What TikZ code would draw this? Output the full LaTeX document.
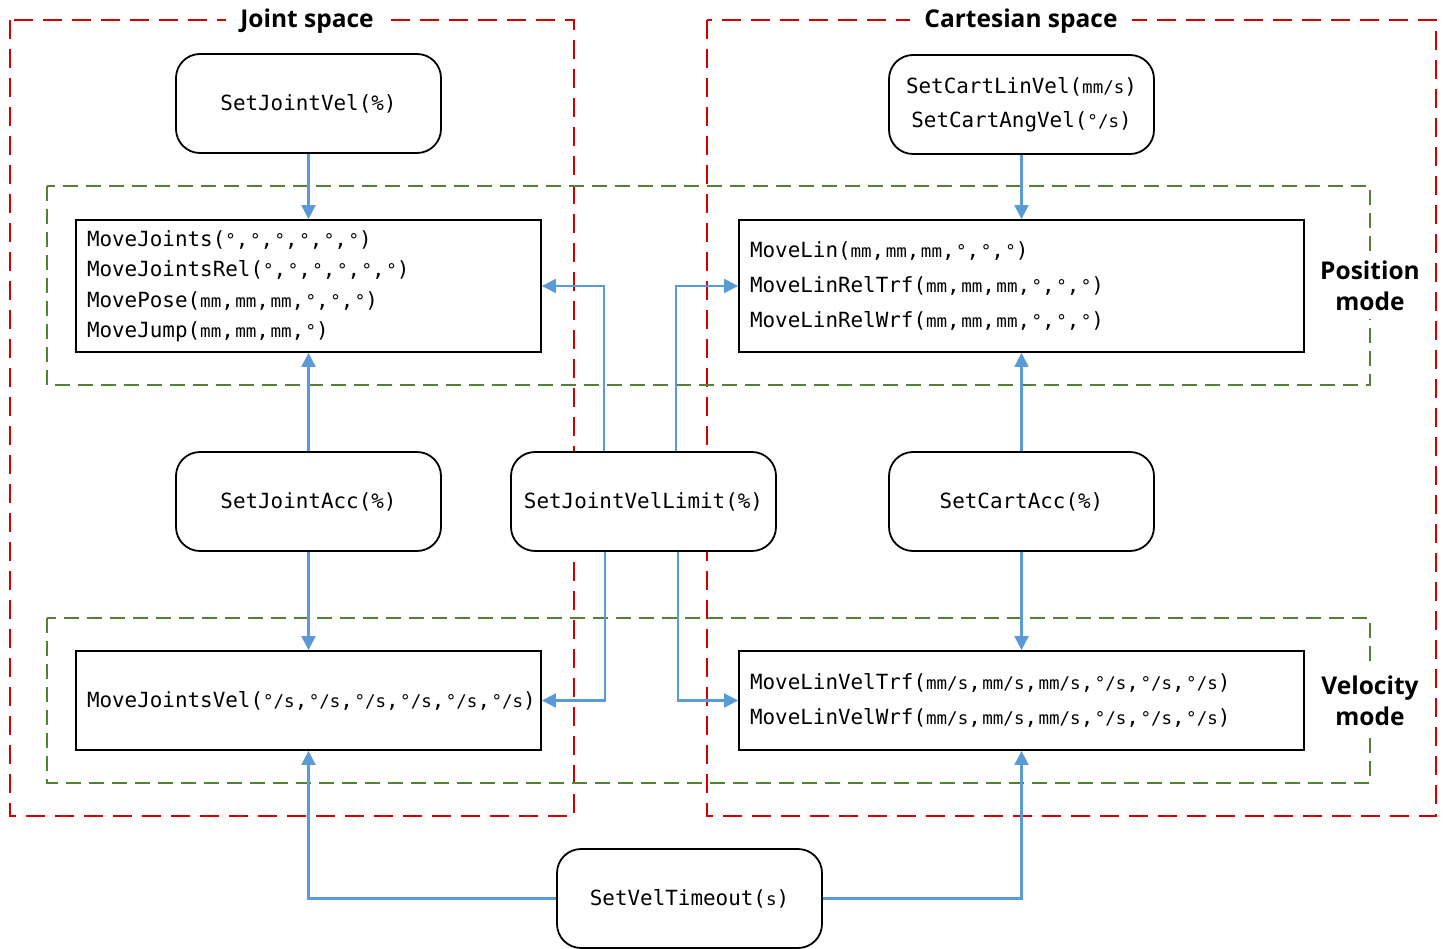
\documentclass[tikz,border=0pt]{standalone}
\usepackage{fontspec}
\setmonofont{DejaVu Sans Mono}
\newfontfamily\titlefont{Open Sans}
\usetikzlibrary{arrows.meta}
\definecolor{redd}{RGB}{210,0,0}
\definecolor{grn}{RGB}{84,130,53}
\definecolor{blu}{RGB}{91,155,213}
\newcommand\unitx[1]{{\fontsize{17.5}{17.5}\selectfont #1}}
\newcommand\cmma{,\kern1.5pt}
\begin{document}
\begin{tikzpicture}[x=1pt,y=-1pt,
  rbox/.style={draw, line width=1.8pt, rounded corners=24pt, fill=white, minimum width=265pt, minimum height=99pt, align=center, font=\ttfamily\fontsize{20.9}{34}\selectfont},
  sbox/.style={draw, line width=1.8pt, fill=white, inner xsep=11pt, align=left, font=\ttfamily\fontsize{20.9}{30.5}\selectfont},
  redbox/.style={draw=redd, line width=1.8pt, dash pattern=on 19pt off 10pt},
  grnbox/.style={draw=grn, line width=1.8pt, dash pattern=on 15pt off 8pt},
  ttl/.style={fill=white, inner xsep=14pt, inner ysep=2pt, font=\titlefont\bfseries\fontsize{24.5}{31}\selectfont, align=center},
  arr/.style={draw=blu, line width=2.2pt, -{Triangle[length=14pt,width=14pt]}, blu}
]
\useasboundingbox (0,0) rectangle (1445,949);
% region boxes
\draw[redbox] (10,20) rectangle (574,816);
\draw[redbox] (707,20) rectangle (1436,816);
\draw[grnbox] (47,186) rectangle (1370,385);
\draw[grnbox] (47,618) rectangle (1370,783);
% titles
\node[ttl] (jt) at (307,21) {Joint space};
\node[ttl] (ct) at (1021,21) {Cartesian space};
\node[ttl, inner xsep=4pt, inner ysep=8pt] (pm) at (1370,286) {Position\\mode};
\node[ttl, inner xsep=4pt, inner ysep=8pt] (vm) at (1370,701) {Velocity\\mode};
% nodes
\node[rbox] (jv) at (308.5,103.5) {SetJointVel(\%)};
\node[rbox] (cv) at (1021.5,104.5) {SetCartLinVel(\unitx{mm/s})\\SetCartAngVel(\unitx{°/s})};
\node[sbox, text width=443pt, minimum height=132pt] (mj) at (308.5,286) {MoveJoints(\unitx{°}\cmma\unitx{°}\cmma\unitx{°}\cmma\unitx{°}\cmma\unitx{°}\cmma\unitx{°})\\
MoveJointsRel(\unitx{°}\cmma\unitx{°}\cmma\unitx{°}\cmma\unitx{°}\cmma\unitx{°}\cmma\unitx{°})\\
MovePose(\unitx{mm}\cmma\unitx{mm}\cmma\unitx{mm}\cmma\unitx{°}\cmma\unitx{°}\cmma\unitx{°})\\
MoveJump(\unitx{mm}\cmma\unitx{mm}\cmma\unitx{mm}\cmma\unitx{°})};
\node[sbox, text width=543pt, minimum height=132pt, font=\ttfamily\fontsize{20.9}{35}\selectfont] (ml) at (1021.5,286) {MoveLin(\unitx{mm}\cmma\unitx{mm}\cmma\unitx{mm}\cmma\unitx{°}\cmma\unitx{°}\cmma\unitx{°})\\
MoveLinRelTrf(\unitx{mm}\cmma\unitx{mm}\cmma\unitx{mm}\cmma\unitx{°}\cmma\unitx{°}\cmma\unitx{°})\\
MoveLinRelWrf(\unitx{mm}\cmma\unitx{mm}\cmma\unitx{mm}\cmma\unitx{°}\cmma\unitx{°}\cmma\unitx{°})};
\node[rbox] (ja) at (308.5,501.5) {SetJointAcc(\%)};
\node[rbox] (vl) at (643.5,501.5) {SetJointVelLimit(\%)};
\node[rbox] (ca) at (1021.5,501.5) {SetCartAcc(\%)};
\node[sbox, text width=443pt, minimum height=99pt] (mjv) at (308.5,700.5) {MoveJointsVel(\unitx{°/s}\cmma\unitx{°/s}\cmma\unitx{°/s}\cmma\unitx{°/s}\cmma\unitx{°/s}\cmma\unitx{°/s})};
\node[sbox, text width=543pt, minimum height=99pt, font=\ttfamily\fontsize{20.9}{35}\selectfont] (mlv) at (1021.5,700.5) {MoveLinVelTrf(\unitx{mm/s}\cmma\unitx{mm/s}\cmma\unitx{mm/s}\cmma\unitx{°/s}\cmma\unitx{°/s}\cmma\unitx{°/s})\\
MoveLinVelWrf(\unitx{mm/s}\cmma\unitx{mm/s}\cmma\unitx{mm/s}\cmma\unitx{°/s}\cmma\unitx{°/s}\cmma\unitx{°/s})};
\node[rbox] (vt) at (689.5,898.5) {SetVelTimeout(\unitx{s})};
% connectors
\draw[arr] (jv) -- (mj);
\draw[arr] (cv) -- (ml);
\draw[arr] (ja) -- (mj);
\draw[arr] (ja) -- (mjv);
\draw[arr] (ca) -- (ml);
\draw[arr] (ca) -- (mlv);
\draw[arr] (vl.north) ++(-39.5,0) |- (mj.east);
\draw[arr] (vl.north) ++(32.5,0) |- (ml.west);
\draw[arr] (vl.south) ++(-38.5,0) |- (mjv.east);
\draw[arr] (vl.south) ++(34.5,0) |- (mlv.west);
\draw[arr] (vt.west) -| (mjv.south);
\draw[arr] (vt.east) -| (mlv.south);
\end{tikzpicture}
\end{document}
